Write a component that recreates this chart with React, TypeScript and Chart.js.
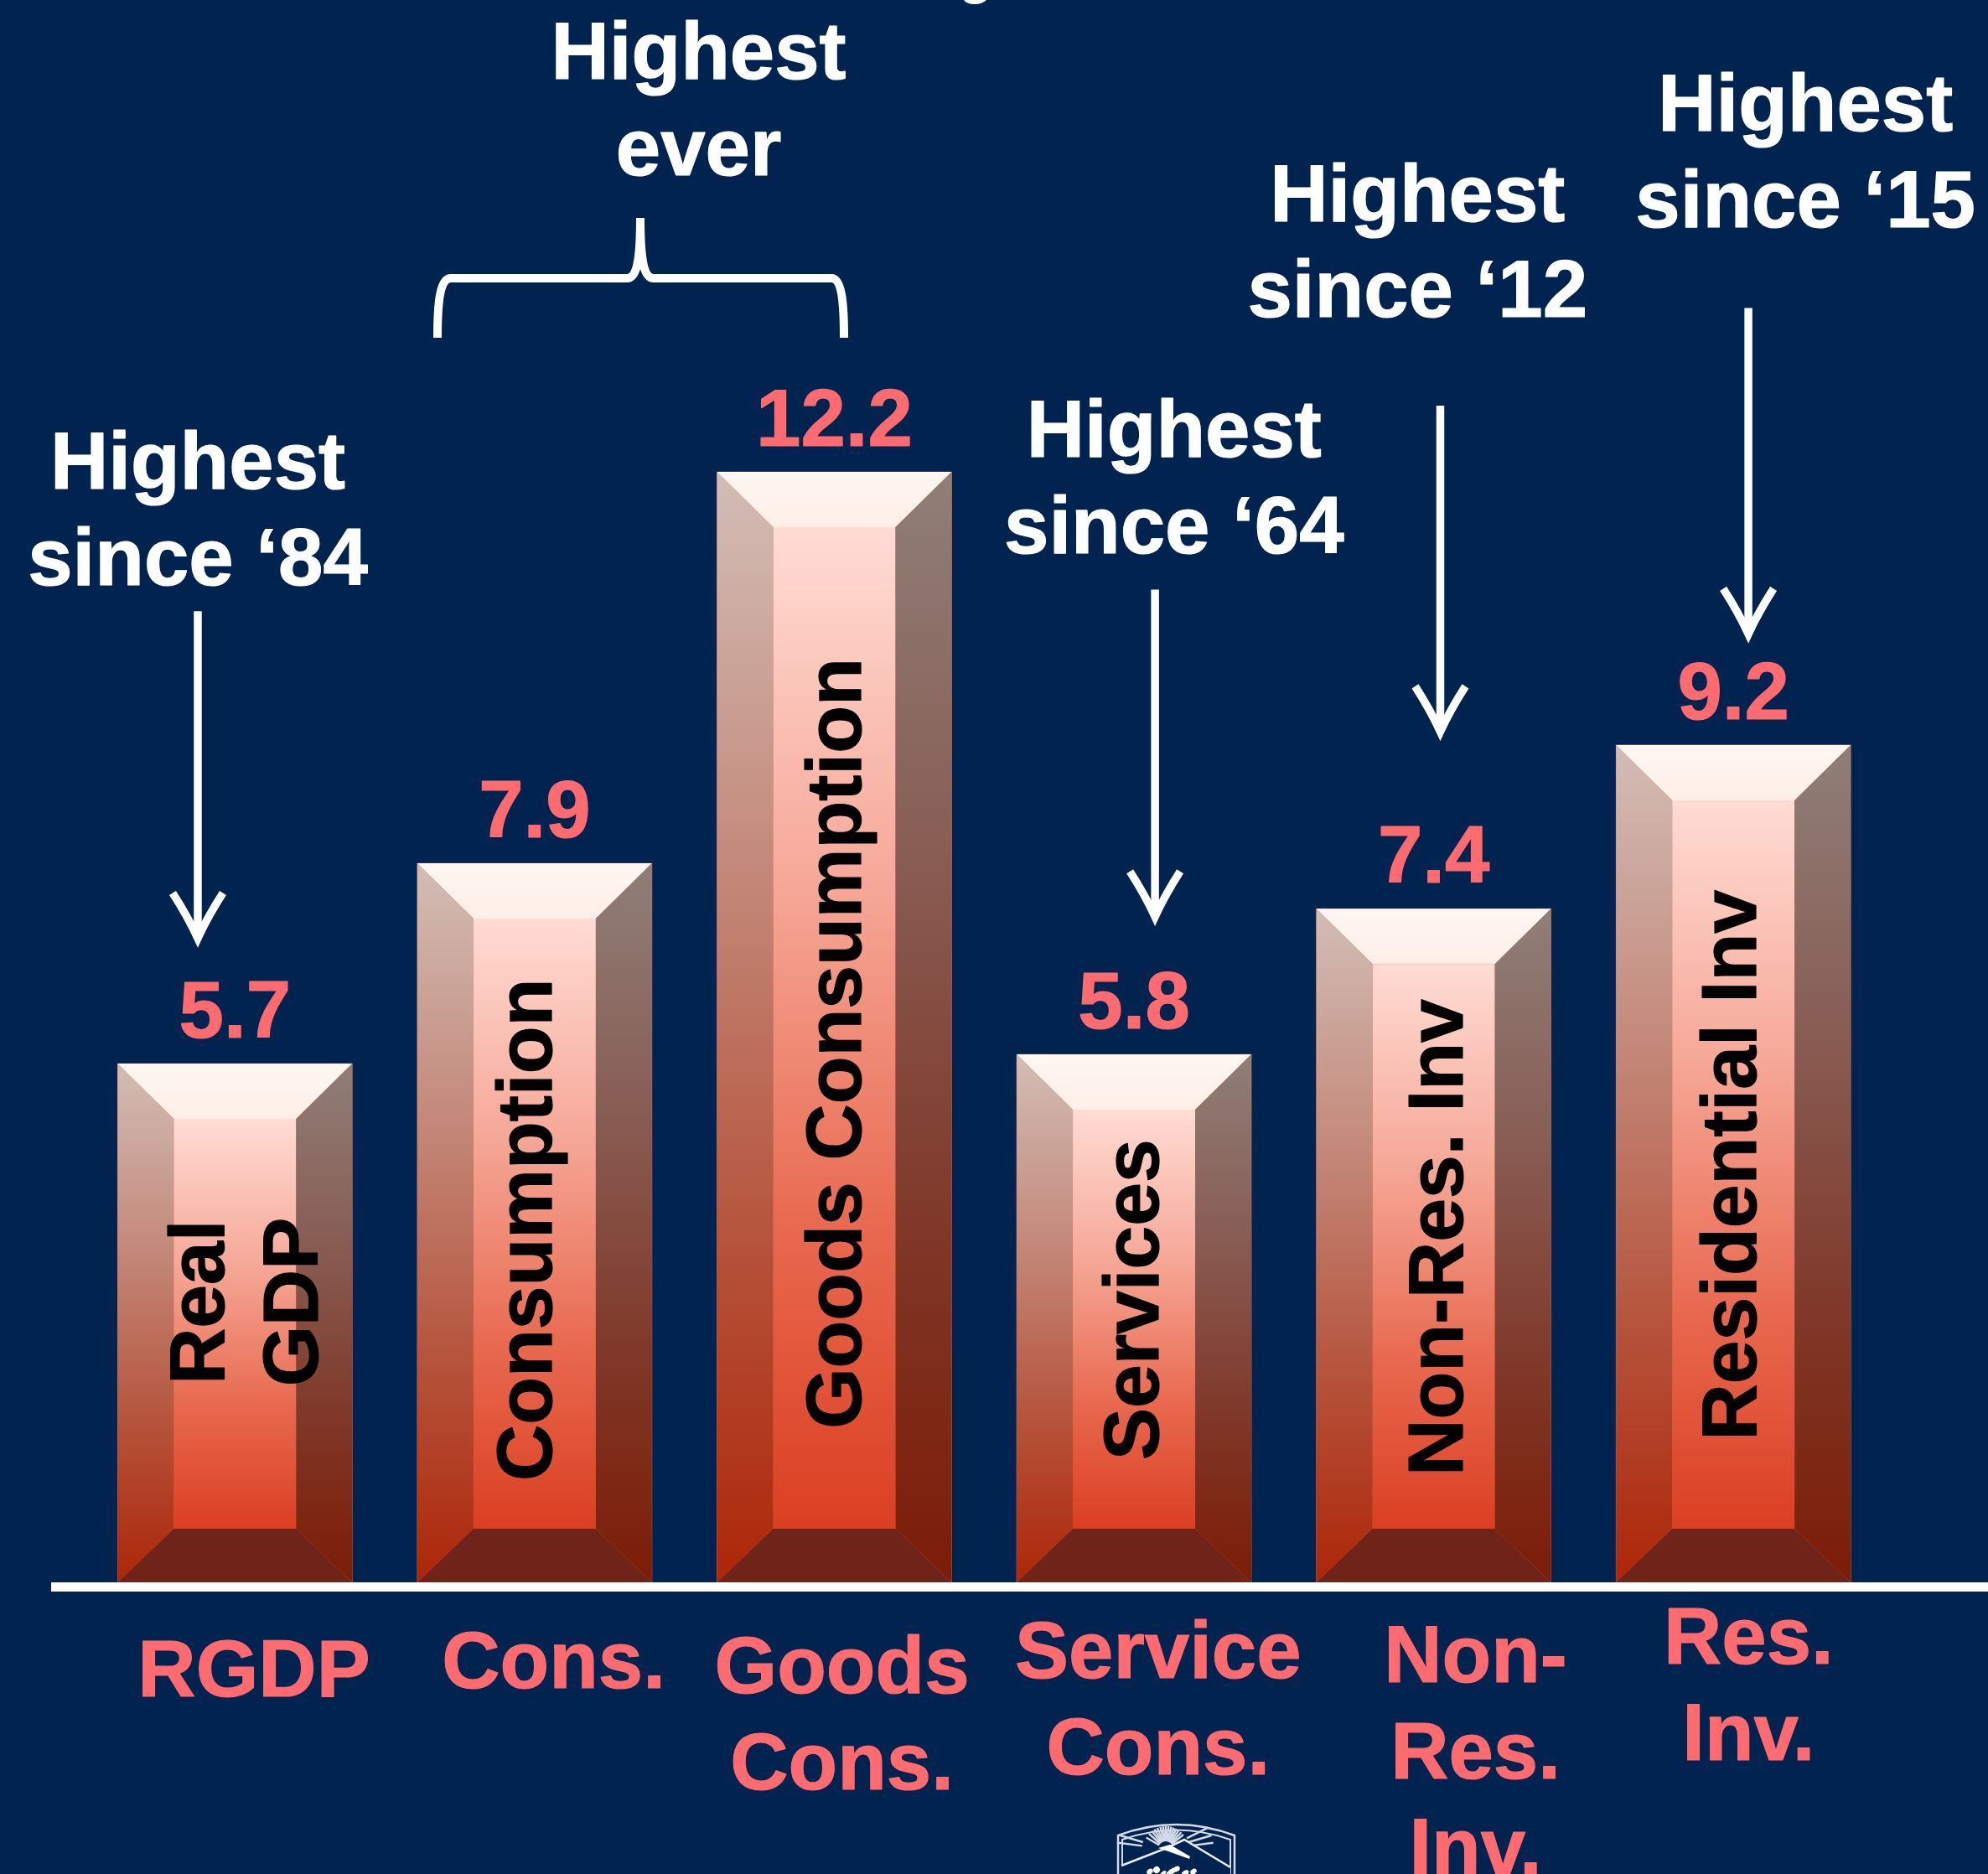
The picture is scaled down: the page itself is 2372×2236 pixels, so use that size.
import React, { useEffect, useRef } from "react";
import { Chart, registerables } from "chart.js";

Chart.register(...registerables);

const categories = ["RGDP", "Cons.", "Goods Cons.", "Service Cons.", "Non-Res. Inv.", "Res. Inv."];
const growth = [5.7, 7.9, 12.2, 5.8, 7.4, 9.2];
const valueLabels = ["5.7", "7.9", "12.2", "5.8", "7.4", "9.2"];
const axisLabels = [["RGDP"], ["Cons."], ["Goods", "Cons."], ["Service", "Cons."], ["Non-", "Res.", "Inv."], ["Res.", "Inv."]];
const barLabels = [["Real", "GDP"], ["Consumption"], ["Goods Consumption"], ["Services"], ["Non-Res. Inv"], ["Residential Inv"]];

const NAVY = "#00234f";
const PINK = "#ff6b6f";
const FONT = '"Liberation Sans", Arial, sans-serif';
const W = 2372;
const H = 2236;
const BASE_Y = 1888;
const k = W / 1568;

// Layout of the decorations (in the coordinates of the shrunk 1568-wide picture)
const calloutLayout = [
  { lines: ["Highest", "ever"], x: 551, y: 62.3 },
  { lines: ["Highest", "since ‘84"], x: 156, y: 385.5 },
  { lines: ["Highest", "since ‘64"], x: 926, y: 360.3 },
  { lines: ["Highest", "since ‘12"], x: 1118, y: 174.2 },
  { lines: ["Highest", "since ‘15"], x: 1424, y: 103.3 },
];
const arrowLayout = [
  { x: 156, y0: 482, y1: 744 },
  { x: 911, y0: 465, y1: 727 },
  { x: 1136, y0: 320, y1: 581 },
  { x: 1379, y0: 243, y1: 504 },
];
const axisLabelLayout = [
  { dx: 15, y: 1338 },
  { dx: 15, y: 1331.5 },
  { dx: 6, y: 1335.5 },
  { dx: 19, y: 1323.5 },
  { dx: 33, y: 1327 },
  { dx: 12, y: 1312 },
];
const barLabelLayout = [
  { dx: -9, mid: 1027, gap: 74 },
  { dx: 13, mid: 970, gap: 0 },
  { dx: 21, mid: 823, gap: 0 },
  { dx: 19, mid: 1025, gap: 0 },
  { dx: 23, mid: 976, gap: 0 },
  { dx: 18, mid: 919, gap: 0 },
];

function grad(c: CanvasRenderingContext2D, y0: number, y1: number, stops: [number, string][]) {
  const g = c.createLinearGradient(0, y0, 0, y1);
  stops.forEach(([o, col]) => g.addColorStop(o, col));
  return g;
}

function poly(c: CanvasRenderingContext2D, pts: number[][], fill: CanvasGradient | string) {
  c.beginPath();
  pts.forEach(([x, y], i) => (i ? c.lineTo(x, y) : c.moveTo(x, y)));
  c.closePath();
  c.fillStyle = fill;
  c.fill();
}

function heavyText(c: CanvasRenderingContext2D, s: string, x: number, y: number) {
  c.fillText(s, x, y);
  c.strokeText(s, x, y);
}

function drawLogo(c: CanvasRenderingContext2D) {
  c.save();
  c.strokeStyle = "#d5dbe6";
  c.fillStyle = "#ffffff";
  c.lineCap = "butt";
  const shield = (l: number, r: number, top: number, peak: number) => {
    c.beginPath();
    c.moveTo(l, H + 5);
    c.lineTo(l, top);
    c.quadraticCurveTo((l + r) / 2, peak, r, top);
    c.lineTo(r, H + 5);
    c.stroke();
  };
  c.lineWidth = 2.5;
  shield(1334, 1473, 2190, 2164);
  c.lineWidth = 2;
  shield(1339, 1468, 2195, 2172);
  // sun rays
  const cx = 1391;
  const cy = 2206;
  c.lineWidth = 2.5;
  const rays = [-172, -162, -150, -138, -128, -120, -112, -104, -97, -90, -83, -76, -69, -62, -55, -47, -39, -29, -18, -8];
  rays.forEach((a) => {
    const rad = (a * Math.PI) / 180;
    const r1 = Math.abs(a + 90) > 60 ? 26 : 9;
    const r0 = Math.abs(a + 90) > 60 ? 52 : 27;
    const scale = Math.abs(a + 90) > 60 ? 1.1 : 1;
    c.beginPath();
    c.moveTo(cx + Math.cos(rad) * r1 * scale, cy + Math.sin(rad) * r1);
    c.lineTo(cx + Math.cos(rad) * r0 * scale, cy + Math.sin(rad) * r0);
    c.stroke();
  });
  // mountain
  c.fillStyle = NAVY;
  c.beginPath();
  c.moveTo(1338, 2226);
  c.lineTo(1392, 2206);
  c.lineTo(1413, 2195);
  c.lineTo(1468, 2228);
  c.lineTo(1468, H + 5);
  c.lineTo(1338, H + 5);
  c.closePath();
  c.fill();
  c.lineWidth = 2.5;
  c.strokeStyle = "#e8ecf2";
  c.beginPath();
  c.moveTo(1338, 2226);
  c.lineTo(1392, 2205);
  c.lineTo(1413, 2195);
  c.lineTo(1468, 2228);
  c.stroke();
  poly(c, [[1382, 2205], [1396, 2201], [1420, 2215], [1419, 2218], [1394, 2209]], "#ffffff");
  // leaves
  c.fillStyle = "#ffffff";
  [[1372, 2233, 4, 3], [1380, 2231, 4, 4], [1398, 2233, 8, 3], [1404, 2230, 4, 3], [1424, 2233, 4, 3], [1388, 2235, 4, 2], [1414, 2235, 5, 3]].forEach(([x, y, a, b]) => {
    c.beginPath();
    c.ellipse(x, y, a, b, -0.6, 0, Math.PI * 2);
    c.fill();
  });
  c.restore();
}

const slidePlugin = {
  id: "slide",
  beforeDraw(chart: any) {
    const c: CanvasRenderingContext2D = chart.ctx;
    c.save();
    c.fillStyle = NAVY;
    c.fillRect(0, 0, W, H);
    c.restore();
  },
  afterDatasetsDraw(chart: any) {
    const c: CanvasRenderingContext2D = chart.ctx;
    const meta = chart.getDatasetMeta(0);
    const xScale = chart.scales.x;
    c.save();
    // bevelled bars, read from the bar elements
    meta.data.forEach((bar: any) => {
      const l = bar.x - bar.width / 2;
      const r = bar.x + bar.width / 2;
      const t = bar.y;
      const b = bar.base;
      const iT = 66;
      const iB = 64;
      const iS = 67;
      poly(c, [[l, t], [r, t], [r - iS, t + iT], [l + iS, t + iT]],
        grad(c, t, t + iT, [[0, "#fff7f2"], [1, "#ffeee7"]]));
      poly(c, [[l + iS, t + iT], [r - iS, t + iT], [r - iS, b - iB], [l + iS, b - iB]],
        grad(c, t + iT, b - iB, [[0, "#ffdcd4"], [0.35, "#f6a999"], [0.7, "#e8694f"], [1, "#db3f22"]]));
      poly(c, [[l, t], [l + iS, t + iT], [l + iS, b - iB], [l, b]],
        grad(c, t, b, [[0, "#d2bdb6"], [0.35, "#c48a7b"], [0.7, "#b5523a"], [1, "#ad2608"]]));
      poly(c, [[r, t], [r - iS, t + iT], [r - iS, b - iB], [r, b]],
        grad(c, t, b, [[0, "#8f7f78"], [0.35, "#885c53"], [0.7, "#7f3626"], [1, "#7c1c06"]]));
      poly(c, [[l, b], [l + iS, b - iB], [r - iS, b - iB], [r, b]], "#702319");
    });

    // baseline
    c.fillStyle = "#ffffff";
    c.fillRect(61, BASE_Y, W - 61, 11);

    c.textBaseline = "alphabetic";
    c.textAlign = "center";
    c.lineJoin = "round";
    c.lineWidth = 1.2;

    // value labels above the bars
    c.font = `bold 96px ${FONT}`;
    c.fillStyle = PINK;
    c.strokeStyle = PINK;
    meta.data.forEach((bar: any, i: number) => {
      heavyText(c, valueLabels[i], bar.x, bar.y - 31);
    });

    // category labels under the axis
    axisLabels.forEach((lines, i) => {
      const x = xScale.getPixelForTick(i) + axisLabelLayout[i].dx * k;
      lines.forEach((line, j) => {
        heavyText(c, line, x, (axisLabelLayout[i].y + 76 * j) * k);
      });
    });

    // rotated labels inside the bars
    c.font = `bold 93px ${FONT}`;
    c.fillStyle = "#000000";
    c.strokeStyle = "#000000";
    barLabels.forEach((lines, i) => {
      const lay = barLabelLayout[i];
      const bar = meta.data[i];
      lines.forEach((line, j) => {
        c.save();
        c.translate(bar.x + (lay.dx + j * lay.gap) * k, lay.mid * k);
        c.rotate(-Math.PI / 2);
        heavyText(c, line, 0, 0);
        c.restore();
      });
    });

    // callouts
    c.font = `bold 96px ${FONT}`;
    c.fillStyle = "#ffffff";
    c.strokeStyle = "#ffffff";
    calloutLayout.forEach((t) => {
      t.lines.forEach((line, j) => heavyText(c, line, t.x * k, (t.y + 76 * j) * k));
    });

    // arrows
    c.strokeStyle = "#ffffff";
    c.lineWidth = 9.5;
    c.lineCap = "butt";
    c.lineJoin = "miter";
    arrowLayout.forEach((a) => {
      const x = a.x * k;
      const y0 = a.y0 * k;
      const y1 = a.y1 * k;
      c.beginPath();
      c.moveTo(x, y0);
      c.lineTo(x, y1 - 6);
      c.stroke();
      c.beginPath();
      c.moveTo(x - 30, y1 - 60);
      c.quadraticCurveTo(x - 12, y1 - 32, x, y1 - 6);
      c.quadraticCurveTo(x + 12, y1 - 32, x + 30, y1 - 60);
      c.stroke();
    });

    // brace
    c.lineWidth = 10;
    c.beginPath();
    c.moveTo(522, 403);
    c.bezierCurveTo(522, 360, 525, 332, 538, 332);
    c.lineTo(748, 332);
    c.bezierCurveTo(760, 332, 764, 310, 764, 260);
    c.bezierCurveTo(764, 310, 768, 332, 780, 332);
    c.lineTo(992, 332);
    c.bezierCurveTo(1004, 332, 1007, 360, 1007, 403);
    c.stroke();

    // tail of a line cut off by the top edge
    c.fillStyle = "#ffffff";
    c.beginPath();
    c.moveTo(1150, 0);
    c.quadraticCurveTo(1153, 5, 1163, 5);
    c.quadraticCurveTo(1172, 5, 1177, 0);
    c.closePath();
    c.fill();

    drawLogo(c);
    c.restore();
  },
};

export default function App() {
  const ref = useRef<HTMLCanvasElement>(null);
  useEffect(() => {
    document.body.style.margin = "0";
    document.body.style.background = NAVY;
    const chart = new Chart(ref.current!, {
      type: "bar",
      data: {
        labels: categories,
        datasets: [
          {
            label: "Growth",
            data: growth,
            backgroundColor: "#e5664a",
            borderWidth: 0,
            barThickness: 280,
          },
        ],
      },
      options: {
        animation: false,
        responsive: false,
        maintainAspectRatio: false,
        layout: { padding: { left: 101.5, right: 125, top: 0, bottom: H - BASE_Y } },
        plugins: { legend: { display: false }, title: { display: false }, tooltip: { enabled: false } },
        scales: {
          x: { display: false, grid: { display: false } },
          y: { display: false, min: 0, max: BASE_Y / 108.6, grid: { display: false } },
        },
      },
      plugins: [slidePlugin],
    });
    return () => chart.destroy();
  }, []);
  return (
    <canvas
      ref={ref}
      width={W}
      height={H}
      style={{ display: "block", position: "absolute", left: 0, top: 0, width: W, height: H }}
    />
  );
}
